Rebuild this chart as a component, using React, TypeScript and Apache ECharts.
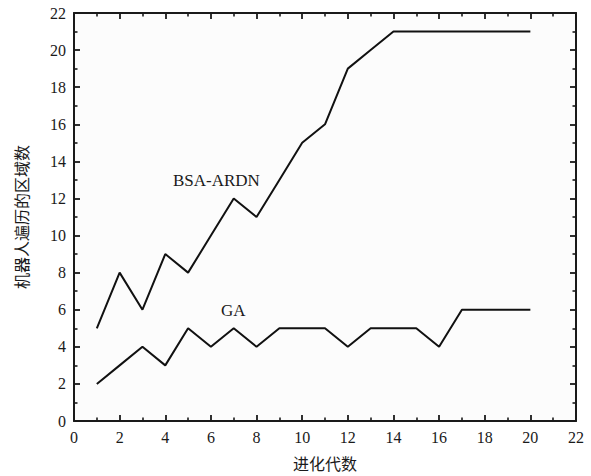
import React, { useEffect, useRef } from "react";
import * as echarts from "echarts";

const generations = [1, 2, 3, 4, 5, 6, 7, 8, 9, 10, 11, 12, 13, 14, 15, 16, 17, 18, 19, 20];
const bsaArdn = [5, 8, 6, 9, 8, 10, 12, 11, 13, 15, 16, 19, 20, 21, 21, 21, 21, 21, 21, 21];
const ga = [2, 3, 4, 3, 5, 4, 5, 4, 5, 5, 5, 4, 5, 5, 5, 4, 6, 6, 6, 6];

const serif = "'Liberation Serif', 'Times New Roman', serif";
const cjk = "'Noto Sans CJK SC', sans-serif";
const ink = "#1a1a1a";

export default function App() {
  const ref = useRef<HTMLDivElement>(null);
  useEffect(() => {
    if (!ref.current) return;
    const chart = echarts.init(ref.current, null, { renderer: "svg" });
    const label = { fontFamily: serif, fontSize: 16, color: ink };
    const frameAxis = () => ({
      type: "value", min: 0, max: 22, interval: 2,
      axisLine: { show: true, onZero: false, lineStyle: { color: ink, width: 2 } },
      axisTick: { show: true, inside: true, length: 6, lineStyle: { color: ink, width: 1.8 } },
      minorTick: { show: true, splitNumber: 2, length: 3.5, lineStyle: { color: ink, width: 1.6 } },
      splitLine: { show: false },
    });
    chart.setOption({
      animation: false,
      backgroundColor: "#fff",
      grid: { left: 74, right: 15, top: 13, bottom: 54, show: true, backgroundColor: "#fcfcfc", borderWidth: 0 },
      xAxis: [
        {
          ...frameAxis(),
          axisLabel: { ...label, margin: 8 },
          name: "进化代数", nameLocation: "middle", nameGap: 34,
          nameTextStyle: { fontFamily: cjk, fontSize: 16, color: ink },
        },
        { ...frameAxis(), position: "top", axisLabel: { show: false } },
      ],
      yAxis: [
        {
          ...frameAxis(),
          axisLabel: { ...label, margin: 8 },
          name: "机器人遍历的区域数", nameLocation: "middle", nameGap: 45,
          nameTextStyle: { fontFamily: cjk, fontSize: 16, color: ink },
        },
        { ...frameAxis(), position: "right", axisLabel: { show: false } },
      ],
      series: [
        {
          name: "BSA-ARDN", type: "line", data: generations.map((g, i) => [g, bsaArdn[i]]),
          showSymbol: false, lineStyle: { color: "#111", width: 2 },
        },
        {
          name: "GA", type: "line", xAxisIndex: 1, yAxisIndex: 1, data: generations.map((g, i) => [g, ga[i]]),
          showSymbol: false, lineStyle: { color: "#111", width: 2 },
        },
      ],
      graphic: [
        { type: "text", left: 173, top: 172, style: { text: "BSA-ARDN", font: `17px ${serif}`, fill: ink } },
        { type: "text", left: 221, top: 302, style: { text: "GA", font: `17px ${serif}`, fill: ink } },
      ],
    });
    return () => chart.dispose();
  }, []);
  return <div ref={ref} style={{ width: 591, height: 476, position: "absolute", left: 0, top: 0 }} />;
}
